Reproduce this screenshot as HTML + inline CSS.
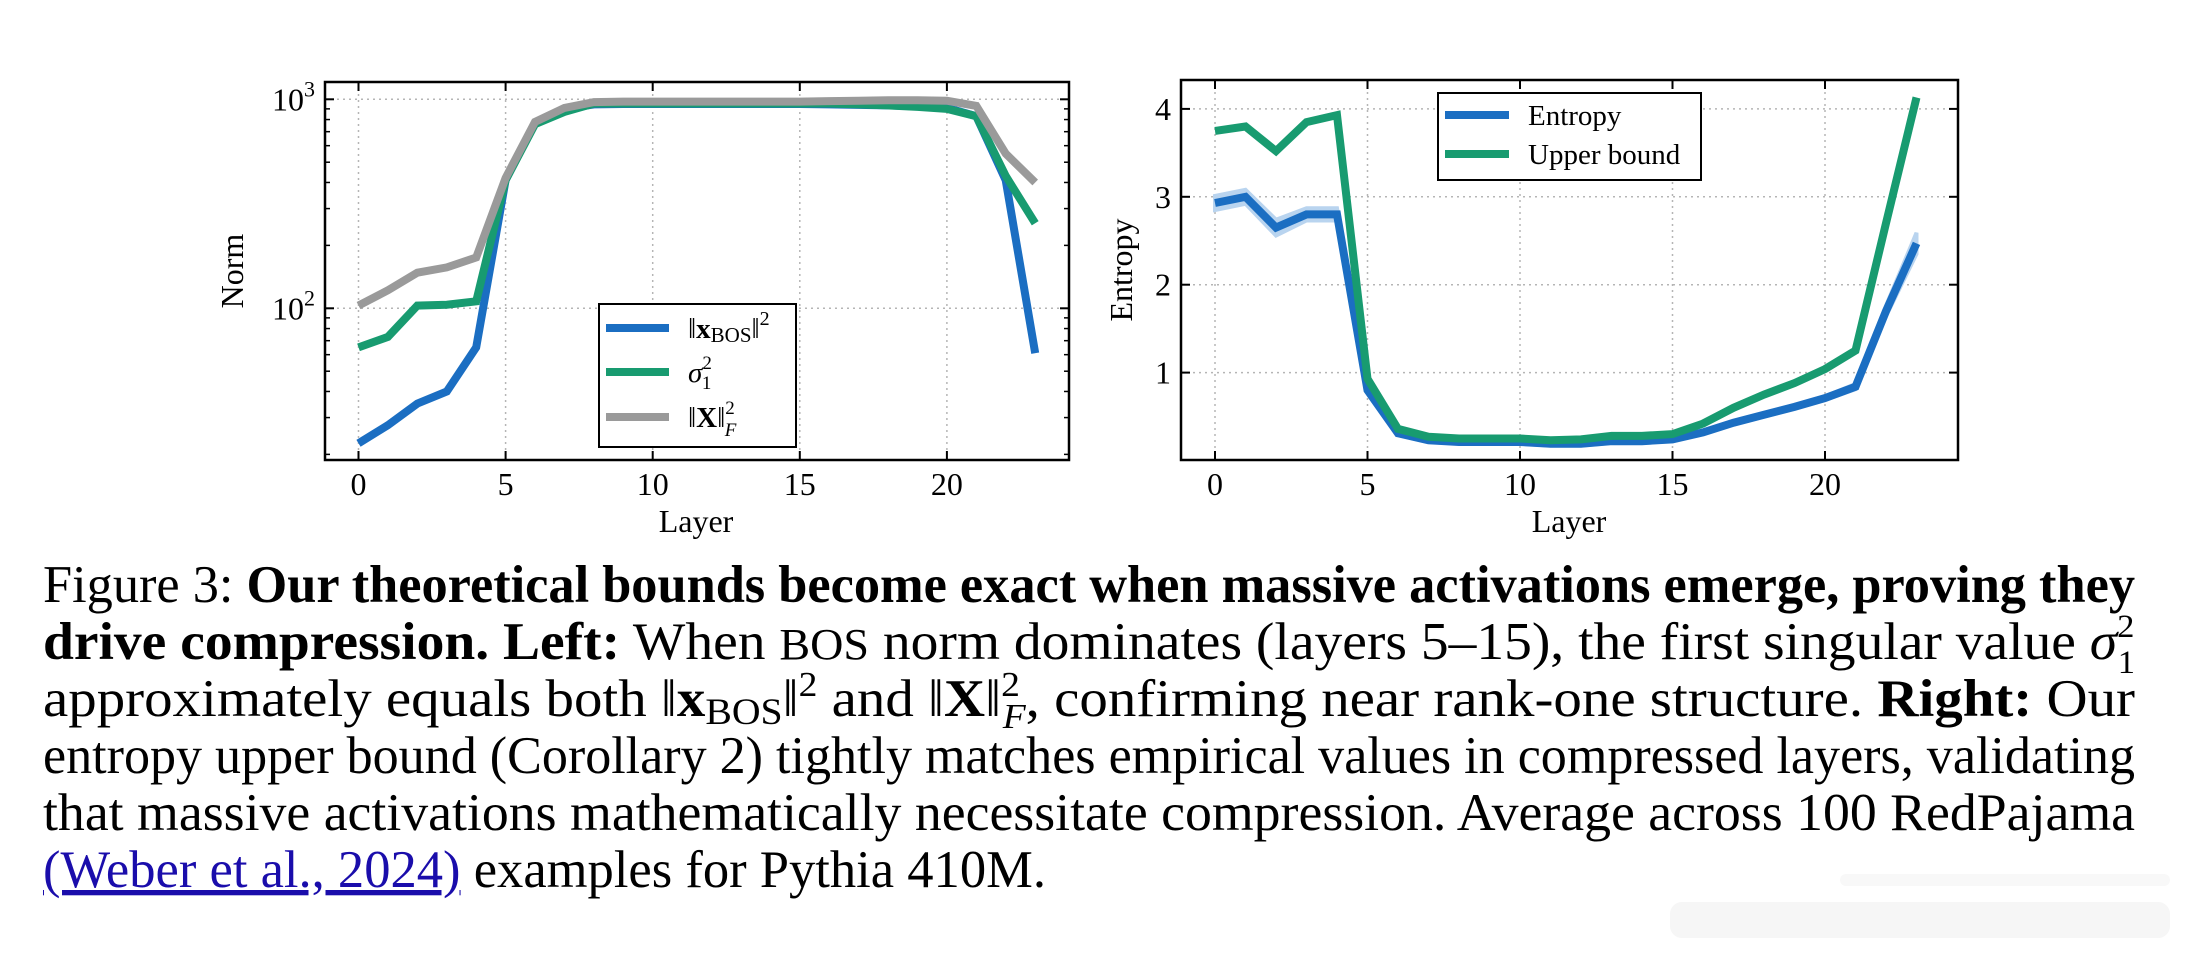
<!DOCTYPE html>
<html><head><meta charset="utf-8"><style>
html,body{margin:0;padding:0;background:#fff;}
svg{display:block;}
</style></head><body>
<svg id="fig" width="2194" height="960" viewBox="0 0 2194 960" xmlns="http://www.w3.org/2000/svg" font-family="'Liberation Serif', serif">
<g id="left"></g>
<g id="right"></g>
<g font-size="53" fill="#000">
<text x="43" y="602" textLength="2092" lengthAdjust="spacingAndGlyphs">Figure 3: <tspan font-weight="bold">Our theoretical bounds become exact when massive activations emerge, proving they</tspan></text>
<text x="43" y="659" textLength="2092" lengthAdjust="spacingAndGlyphs"><tspan font-weight="bold">drive compression.  Left:</tspan>  When <tspan font-size="44">BOS</tspan> norm dominates (layers 5–15), the first singular value <tspan font-style="italic">σ</tspan><tspan font-size="33" dy="-22">2</tspan><tspan font-size="33" dx="-16" dy="36">1</tspan></text>
<text x="43" y="716" textLength="2092" lengthAdjust="spacingAndGlyphs">approximately equals both ‖<tspan font-weight="bold">x</tspan><tspan font-size="37" dy="8">BOS</tspan><tspan dy="-8">‖</tspan><tspan font-size="35" dy="-20">2</tspan><tspan dy="20"> and ‖</tspan><tspan font-weight="bold">X</tspan>‖<tspan font-size="35" dy="-20">2</tspan><tspan font-size="35" font-style="italic" dx="-16" dy="32">F</tspan><tspan dy="-12">, confirming near rank-one structure.  </tspan><tspan font-weight="bold">Right:</tspan> Our</text>
<text x="43" y="773" textLength="2092" lengthAdjust="spacingAndGlyphs">entropy upper bound (Corollary 2) tightly matches empirical values in compressed layers, validating</text>
<text x="43" y="830" textLength="2092" lengthAdjust="spacingAndGlyphs">that massive activations mathematically necessitate compression.  Average across 100 RedPajama</text>
<text x="43" y="887" textLength="1003" lengthAdjust="spacingAndGlyphs"><tspan fill="#1a0dab" text-decoration="underline">(Weber et al., 2024)</tspan> examples for Pythia 410M.</text>
</g>
<g opacity="0.5">
<rect x="1670" y="902" width="500" height="36" rx="12" fill="#eee"/>
<rect x="1840" y="874" width="330" height="12" rx="6" fill="#f2f2f2"/>
</g>
</svg>
<script>
const layers = Array.from({length:24},(_, i)=>i);
const xTicks = [0,5,10,15,20];
const xbosNorm = [22.6,27.6,35,40,65,410,770,900,945,950,950,950,950,950,950,950,945,940,935,925,910,830,410,61];
const sigma1Sq = [65,73,103,104,108,410,760,870,955,955,955,955,955,955,955,955,955,945,935,920,900,830,430,255];
const frobNorm = [103,122,148,157,175,420,780,910,970,975,975,975,975,975,975,975,980,985,990,990,985,930,550,400];
const entropyMean = [2.93,3.0,2.65,2.80,2.80,0.80,0.31,0.23,0.21,0.21,0.21,0.19,0.19,0.22,0.22,0.24,0.32,0.43,0.52,0.61,0.71,0.84,1.70,2.47];
const entropyErr = [0.08,0.08,0.09,0.07,0.07,0.03,0.02,0.02,0.02,0.02,0.02,0.02,0.02,0.02,0.02,0.02,0.02,0.02,0.02,0.02,0.02,0.03,0.06,0.12];
const upperBound = [3.75,3.80,3.52,3.85,3.93,0.93,0.36,0.27,0.25,0.25,0.25,0.23,0.24,0.28,0.28,0.30,0.42,0.60,0.75,0.88,1.04,1.25,2.70,4.13];
const entropyTicks = [1,2,3,4];

const NS='http://www.w3.org/2000/svg';
function mk(parent, tag, attrs){const e=document.createElementNS(NS,tag);for(const k in attrs)e.setAttribute(k,attrs[k]);parent.appendChild(e);return e;}
const BLUE='#1b6ec2', GREEN='#189b70', GRAY='#9a9a9a';

function frameAndAxes(g, L, R, T, B, sx, sy, yTicks, yLabelFn, xlabelX, ylab, ylabX, minorY){
  xTicks.forEach(t=>{const l=mk(g,'line',{x1:sx(t),x2:sx(t),y1:T,y2:B,stroke:'#b5b5b5','stroke-width':1.5,'stroke-dasharray':'2,4'});
    });
  yTicks.forEach(t=>{const l=mk(g,'line',{x1:L,x2:R,y1:sy(t),y2:sy(t),stroke:'#b5b5b5','stroke-width':1.5,'stroke-dasharray':'2,4'});
    });
  xTicks.forEach(t=>{
    const a=mk(g,'line',{x1:sx(t),x2:sx(t),y1:B,y2:B-9,stroke:'#000','stroke-width':2});
    
    const b=mk(g,'line',{x1:sx(t),x2:sx(t),y1:T,y2:T+9,stroke:'#000','stroke-width':2});
    
    const tx=mk(g,'text',{x:sx(t),y:B+35,'font-size':32,'text-anchor':'middle'});tx.textContent=String(t);
    
  });
  (minorY||[]).forEach(t=>{
    const a=mk(g,'line',{x1:L,x2:L+5,y1:sy(t),y2:sy(t),stroke:'#000','stroke-width':1.5});
    
    const b=mk(g,'line',{x1:R,x2:R-5,y1:sy(t),y2:sy(t),stroke:'#000','stroke-width':1.5});
    
  });
  yTicks.forEach(t=>{
    const a=mk(g,'line',{x1:L,x2:L+9,y1:sy(t),y2:sy(t),stroke:'#000','stroke-width':2});
    
    const b=mk(g,'line',{x1:R,x2:R-9,y1:sy(t),y2:sy(t),stroke:'#000','stroke-width':2});
    
    yLabelFn(t);
  });
  const xl=mk(g,'text',{x:xlabelX,y:B+72,'font-size':32,'text-anchor':'middle'});xl.textContent='Layer';
  
  const yl=mk(g,'text',{x:0,y:0,'font-size':32,'text-anchor':'middle',transform:`translate(${ylabX},${(T+B)/2}) rotate(-90)`});yl.textContent=ylab;
  
}
function frame(g,L,R,T,B){const f=mk(g,'rect',{x:L,y:T,width:R-L,height:B-T,fill:'none',stroke:'#000','stroke-width':2.5});
  }
function series(g, vals, sx, sy, color, name){
  const d=vals.map((v,i)=>(i?'L':'M')+sx(layers[i]).toFixed(1)+','+sy(v).toFixed(1)).join('');
  const p=mk(g,'path',{d:d,fill:'none',stroke:color,'stroke-width':8,'stroke-linejoin':'miter','stroke-miterlimit':3});
  
}

(function(){
  const g=document.getElementById('left');
  const L=325,R=1069,T=82,B=460;
  const sx=v=>358.5+v*29.42;
  const sy=v=>308.3-(Math.log10(v)-2)*209;
  const minor=[20,30,40,50,60,70,80,90,200,300,400,500,600,700,800,900];
  frameAndAxes(g,L,R,T,B,sx,sy,[100,1000],t=>{
    const e=Math.round(Math.log10(t));
    const tx=mk(g,'text',{x:L-10,y:sy(t)+11,'font-size':32,'text-anchor':'end'});
    
    const a=mk(tx,'tspan',{});a.textContent='10';
    const b=mk(tx,'tspan',{'font-size':22,dy:-14});b.textContent=String(e);
  },696,'Norm',243,minor);
  series(g,xbosNorm,sx,sy,BLUE,'xbos-norm-line');
  series(g,sigma1Sq,sx,sy,GREEN,'sigma1-squared-line');
  series(g,frobNorm,sx,sy,GRAY,'frobenius-norm-line');
  frame(g,L,R,T,B);
  const lg=mk(g,'g',{});
  mk(lg,'rect',{x:599,y:304,width:197,height:143,fill:'#fff',stroke:'#000','stroke-width':2});
  const items=[[BLUE,328,'xbos'],[GREEN,372,'sigma'],[GRAY,417,'frob']];
  items.forEach(([c,y,k])=>{
    const e=mk(lg,'g',{});
    mk(e,'line',{x1:606,x2:669,y1:y,y2:y,stroke:c,'stroke-width':8});
    const t=mk(e,'text',{x:688,y:y+10,'font-size':29});
    if(k==='xbos'){t.innerHTML='‖<tspan font-weight="bold">x</tspan><tspan font-size="21" dy="4">BOS</tspan><tspan dy="-4">‖</tspan><tspan font-size="20" dy="-13">2</tspan>';}
    else if(k==='sigma'){t.innerHTML='<tspan font-style="italic">σ</tspan><tspan font-size="19" dy="-13">2</tspan><tspan font-size="19" dx="-10" dy="20">1</tspan>';}
    else {t.innerHTML='‖<tspan font-weight="bold">X</tspan>‖<tspan font-size="19" dy="-13">2</tspan><tspan font-size="19" font-style="italic" dx="-10" dy="22">F</tspan>';}
  });
})();

(function(){
  const g=document.getElementById('right');
  const L=1181,R=1958,T=80,B=460;
  const sx=v=>1215+v*30.5;
  const sy=v=>460.5-v*87.9;
  frameAndAxes(g,L,R,T,B,sx,sy,entropyTicks,t=>{
    const tx=mk(g,'text',{x:L-10,y:sy(t)+11,'font-size':32,'text-anchor':'end'});tx.textContent=String(t);
    
  },1569,'Entropy',1132,[]);
  const up=entropyMean.map((v,i)=>(i?'L':'M')+sx(layers[i]).toFixed(1)+','+sy(v+entropyErr[i]).toFixed(1)).join('');
  const dn=entropyMean.map((v,i)=>'L'+sx(layers[i]).toFixed(1)+','+sy(v-entropyErr[i]).toFixed(1)).reverse().join('');
  const band=mk(g,'path',{d:up+dn+'Z',fill:'#b9d4ef',stroke:'#b9d4ef','stroke-width':4});
  
  series(g,entropyMean,sx,sy,BLUE,'entropy-line');
  series(g,upperBound,sx,sy,GREEN,'upper-bound-line');
  frame(g,L,R,T,B);
  const lg=mk(g,'g',{});
  mk(lg,'rect',{x:1438,y:93,width:263,height:87,fill:'#fff',stroke:'#000','stroke-width':2});
  [[BLUE,115,'Entropy'],[GREEN,154,'Upper bound']].forEach(([c,y,l])=>{
    const e=mk(lg,'g',{});
    mk(e,'line',{x1:1445,x2:1509,y1:y,y2:y,stroke:c,'stroke-width':8});
    const t=mk(e,'text',{x:1528,y:y+10,'font-size':29});t.textContent=l;
  });
})();
</script>
</body></html>
